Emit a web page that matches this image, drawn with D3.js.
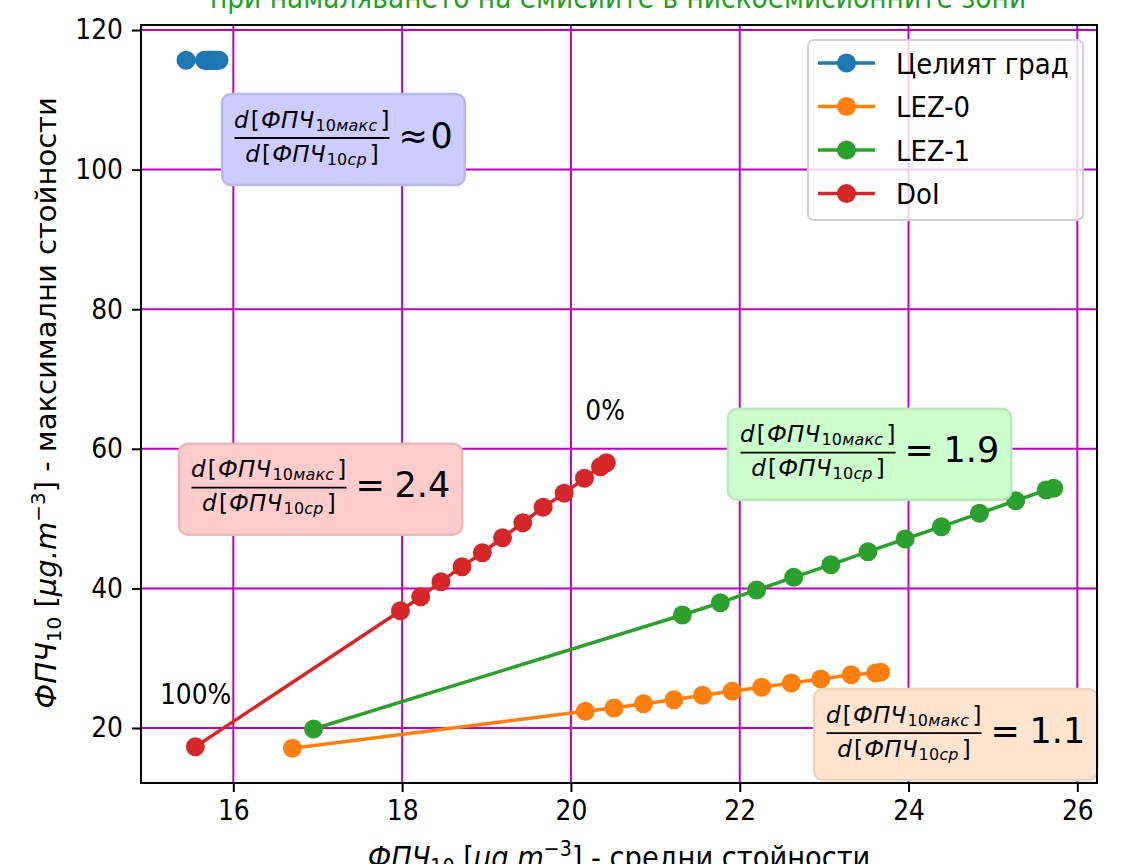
<!DOCTYPE html>
<html><head><meta charset="utf-8">
<script src="https://cdn.jsdelivr.net/npm/d3@7"></script>
<style>body{margin:0;background:#fff;overflow:hidden} text{font-family:"DejaVu Sans",sans-serif}</style>
</head><body><svg id="c" width="1148" height="864"></svg>
<script>
// ---- data ----
const seriesNames = ["Целият град", "LEZ-0", "LEZ-1", "DoI"];
const seriesColors = ["#1f77b4", "#ff7f0e", "#2ca02c", "#d62728"];
const cityX = [15.44, 15.66, 15.67, 15.69, 15.70, 15.72, 15.73, 15.75, 15.76, 15.78, 15.80, 15.81, 15.83];
const cityY = [115.66, 115.66, 115.66, 115.66, 115.66, 115.66, 115.66, 115.66, 115.66, 115.66, 115.66, 115.66, 115.66];
const lez0X = [16.70, 20.17, 20.51, 20.86, 21.22, 21.56, 21.91, 22.26, 22.61, 22.96, 23.32, 23.61, 23.67];
const lez0Y = [17.09, 22.39, 22.87, 23.48, 24.05, 24.68, 25.26, 25.83, 26.45, 27.02, 27.64, 27.88, 27.98];
const lez1X = [16.95, 21.32, 21.77, 22.20, 22.64, 23.08, 23.52, 23.96, 24.39, 24.84, 25.27, 25.63, 25.72];
const lez1Y = [19.86, 36.19, 37.95, 39.77, 41.59, 43.40, 45.26, 47.08, 48.84, 50.76, 52.56, 54.10, 54.34];
const doiX = [15.55, 17.98, 18.22, 18.46, 18.71, 18.95, 19.19, 19.43, 19.67, 19.92, 20.16, 20.35, 20.42];
const doiY = [17.32, 36.80, 38.81, 40.96, 43.11, 45.11, 47.26, 49.41, 51.62, 53.62, 55.77, 57.44, 58.00];
const xTicks = [16, 18, 20, 22, 24, 26];
const yTicks = [20, 40, 60, 80, 100, 120];
const slopeRel = ["≈", "=", "=", "="];
const slopeVal = ["0", "1.1", "1.9", "2.4"];
const slopeAnchorX = [15.866, 22.880, 21.861, 15.356];
const slopeAnchorY = [104.53, 19.28, 59.44, 54.43];
const pctLabels = ["0%", "100%"];
const pctX = [20.17, 15.13];
const pctY = [64.1, 23.4];
const titleText = "при намаляването на емисиите в нискоемисионните зони";

// ---- layout ----
const L = 141, R = 1097, T = 25, B = 783;
const SY = 1.12; // vertical stretch of the reference's plain texts
const svg = d3.select("#c");
const x = d3.scaleLinear().domain([14.906, 26.233]).range([L, R]);
const y = d3.scaleLinear().domain([12.12, 120.72]).range([B, T]);
const GRID = "#bf00bf";
const boxFill = ["#ccccff", "#ffe5cf", "#ccffcc", "#ffcccc"];
const boxStroke = ["#b8b8ea", "#ecd3bd", "#b8eab8", "#eab8b8"];
const stretch = (cy) => `translate(0,${cy}) scale(1,${SY}) translate(0,${-cy})`;

// grid
const grid = svg.append("g");
grid.selectAll("line.gx").data(xTicks).join("line")
  .attr("x1", d => x(d)).attr("x2", d => x(d)).attr("y1", T).attr("y2", B)
  .attr("stroke", GRID).attr("stroke-width", 2);
grid.selectAll("line.gy").data(yTicks).join("line")
  .attr("y1", d => y(d)).attr("y2", d => y(d)).attr("x1", L).attr("x2", R)
  .attr("stroke", GRID).attr("stroke-width", 2);

// axes
const xAxis = d3.axisBottom(x).tickValues(xTicks).tickSize(9).tickPadding(8).tickFormat(d3.format("d"));
const yAxis = d3.axisLeft(y).tickValues(yTicks).tickSize(9).tickPadding(9).tickFormat(d3.format("d"));
const gx = svg.append("g").attr("transform", `translate(0,${B})`).call(xAxis);
const gy = svg.append("g").attr("transform", `translate(${L},0)`).call(yAxis);
[gx, gy].forEach(g => {
  g.select(".domain").remove();
  g.selectAll(".tick line").attr("stroke", "#000").attr("stroke-width", 2);
  g.selectAll(".tick text").attr("font-size", 25).attr("fill", "#000")
    .attr("font-family", "DejaVu Sans");
});
gx.selectAll(".tick text").attr("transform", stretch(17));
gy.selectAll(".tick text").attr("transform", stretch(0));

// series
const series = [
  {x: cityX, y: cityY}, {x: lez0X, y: lez0Y}, {x: lez1X, y: lez1Y}, {x: doiX, y: doiY}
];
const line = d3.line().x(d => x(d[0])).y(d => y(d[1]));
series.forEach((s, i) => {
  const pts = s.x.map((v, k) => [v, s.y[k]]);
  const g = svg.append("g");
  g.append("path").attr("d", line(pts)).attr("fill", "none")
    .attr("stroke", seriesColors[i]).attr("stroke-width", 3.5).attr("stroke-linejoin", "round");
  g.selectAll("circle").data(pts).join("circle")
    .attr("cx", d => x(d[0])).attr("cy", d => y(d[1])).attr("r", 9.5)
    .attr("fill", seriesColors[i]);
});

// slope annotation boxes
function fracPart(t, sub) {
  t.append("tspan").attr("font-style", "italic").text("d");
  t.append("tspan").attr("dx", 2).text("[");
  t.append("tspan").attr("font-style", "italic").attr("dx", 1).text("ФПЧ");
  t.append("tspan").attr("font-size", 16).attr("dy", 3).attr("dx", 1).text("10");
  t.append("tspan").attr("font-size", 16).attr("font-style", "italic").text(sub);
  t.append("tspan").attr("dy", -3).attr("dx", 3).text("]");
}
slopeVal.forEach((val, i) => {
  const x0 = x(slopeAnchorX[i]), yc = y(slopeAnchorY[i]);
  const g = svg.append("g");
  const rect = g.append("rect");
  const num = g.append("text").attr("x", x0 + 12).attr("y", yc - 10.5).attr("font-size", 23)
    .attr("letter-spacing", 0.2).attr("fill", "#000");
  fracPart(num, "макс");
  const w = num.node().getComputedTextLength() + 6;
  const barEnd = x0 + 13 + w;
  g.append("line").attr("x1", x0 + 12.5).attr("x2", barEnd).attr("y1", yc).attr("y2", yc)
    .attr("stroke", "#000").attr("stroke-width", 1.8);
  const den = g.append("text").attr("x", (x0 + 12.5 + barEnd) / 2).attr("y", yc + 23.5).attr("font-size", 23)
    .attr("letter-spacing", 0.2).attr("text-anchor", "middle").attr("fill", "#000");
  fracPart(den, "ср");
  const relX = barEnd + 9;
  g.append("text").attr("x", relX).attr("y", yc + 9.6).attr("font-size", 35)
    .attr("fill", "#000").text(slopeRel[i]);
  const valX = relX + (slopeRel[i] === "=" ? 39 : 32);
  const big = g.append("text").attr("x", valX).attr("y", yc + 9.6).attr("font-size", 35)
    .attr("fill", "#000").text(val);
  const bw = big.node().getComputedTextLength();
  const right = valX + bw + 12;
  rect.attr("x", x0).attr("y", yc - 44).attr("width", right - x0).attr("height", 91)
    .attr("rx", 9).attr("fill", boxFill[i]).attr("stroke", boxStroke[i]).attr("stroke-width", 2.5);
});

// percentage labels
svg.selectAll("text.pct").data(pctLabels).join("text").attr("class", "pct")
  .attr("x", (d, i) => x(pctX[i])).attr("y", (d, i) => y(pctY[i]))
  .attr("transform", (d, i) => stretch(y(pctY[i])))
  .attr("font-size", 25).attr("fill", "#000").text(d => d);

// legend
const lg = svg.append("g");
lg.append("rect").attr("x", 808).attr("y", 40).attr("width", 275).attr("height", 180).attr("rx", 6)
  .attr("fill", "#fff").attr("fill-opacity", 0.8).attr("stroke", "#d0d0d0").attr("stroke-width", 2);
seriesNames.forEach((n, i) => {
  const yy = 63 + i * 43.5;
  lg.append("line").attr("x1", 818).attr("x2", 875).attr("y1", yy).attr("y2", yy)
    .attr("stroke", seriesColors[i]).attr("stroke-width", 3.5);
  lg.append("circle").attr("cx", 846.5).attr("cy", yy).attr("r", 9.5).attr("fill", seriesColors[i]);
  lg.append("text").attr("x", 896).attr("y", yy + 9.5).attr("transform", stretch(yy))
    .attr("font-size", 26).attr("fill", "#000").text(n);
});

// spines
svg.append("rect").attr("x", L).attr("y", T).attr("width", R - L).attr("height", B - T)
  .attr("fill", "none").attr("stroke", "#000").attr("stroke-width", 2);

// axis labels
function axisLabel(t, rest, fs) {
  const s = Math.round(fs * 0.68);
  t.append("tspan").attr("font-style", "italic").text("ФПЧ");
  t.append("tspan").attr("font-size", s).attr("dy", 5).text("10");
  t.append("tspan").attr("dy", -5).text(" [");
  t.append("tspan").attr("font-style", "italic").text("μg.m");
  t.append("tspan").attr("font-size", s).attr("dy", -11).text("−3");
  t.append("tspan").attr("dy", 11).text("]" + rest);
}
const xl = svg.append("text").attr("x", (L + R) / 2).attr("y", 868).attr("text-anchor", "middle")
  .attr("transform", stretch(868)).attr("font-size", 27.3).attr("fill", "#000");
axisLabel(xl, " - средни стойности", 27.3);
const yl = svg.append("text").attr("transform", `translate(56,${(T + B) / 2 - 1}) rotate(-90)`)
  .attr("text-anchor", "middle").attr("font-size", 29).attr("fill", "#000");
axisLabel(yl, " - максимални стойности", 29);

// title (partly outside the picture, as in the reference)
svg.append("text").attr("x", (L + R) / 2 - 1).attr("y", 8).attr("text-anchor", "middle")
  .attr("transform", stretch(8)).attr("font-size", 26.5).attr("fill", "#22a022").text(titleText);
</script></body></html>
